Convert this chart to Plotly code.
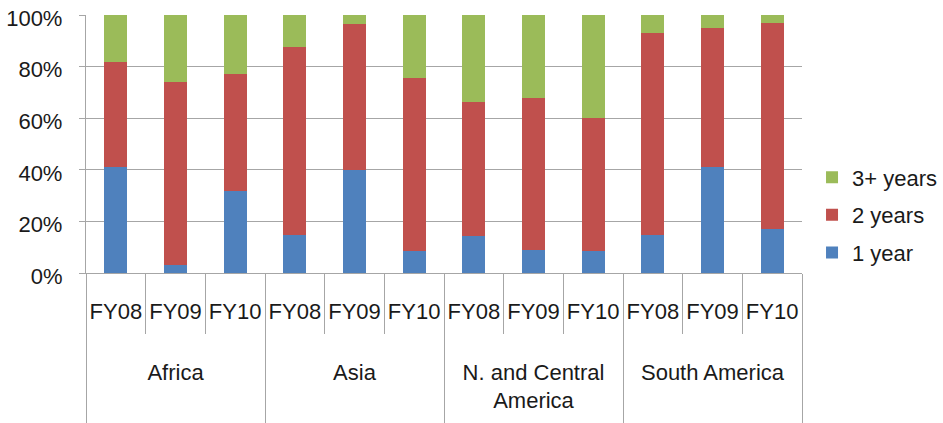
import plotly.graph_objects as go

region_names = ["Africa", "Asia", "N. and Central<br>America", "South America"]
year_names = ["FY08", "FY09", "FY10"]

# blank padding lines give the label rows the heights they have in the reference
year_pad = "<br>\u00a0<br><span style='font-size:2px'>\u00a0</span>"
region_pad = "<br><span style='font-size:2px'>\u00a0</span>"
regions = [r + region_pad for r in region_names for _ in year_names]
years = [y + year_pad for _ in region_names for y in year_names]

one_year = [41.0, 3.0, 31.7, 14.6, 40.0, 8.4, 14.2, 9.0, 8.6, 14.8, 40.9, 17.2]
two_years = [40.9, 71.2, 45.5, 73.1, 56.5, 67.1, 51.9, 59.0, 51.4, 78.4, 53.9, 79.6]
three_plus = [18.1, 25.8, 22.8, 12.3, 3.5, 24.5, 33.9, 32.0, 40.0, 6.8, 5.2, 3.2]

series = [("1 year", one_year, "#4F81BD", 3),
          ("2 years", two_years, "#C0504D", 2),
          ("3+ years", three_plus, "#9BBB59", 1)]

font = "Liberation Sans, Arial, sans-serif"
grid = "#A6A6A6"

fig = go.Figure()
for name, vals, color, rank in series:
    fig.add_trace(go.Bar(x=[regions, years], y=vals, name=name, legendgroup=name,
                         legendrank=rank,
                         marker=dict(color=color, line=dict(width=0))))

fig.update_layout(
    barmode="stack",
    bargap=0.61,
    width=943, height=423,
    margin=dict(l=86, r=141, t=15, b=150, autoexpand=False),
    paper_bgcolor="white", plot_bgcolor="white",
    font=dict(family=font, size=22, color="#1a1a1a"),
    showlegend=True,
    legend=dict(traceorder="grouped", tracegroupgap=6,
                x=1.014, xanchor="left", y=0.225, yanchor="middle",
                font=dict(size=22), itemwidth=30),
)
fig.update_yaxes(range=[0, 100], tickvals=[0, 20, 40, 60, 80, 100],
                 ticktext=["0%", "20%", "40%", "60%", "80%", "100%"],
                 showgrid=True, gridcolor=grid, gridwidth=1.3,
                 showline=True, linecolor=grid, linewidth=1.3,
                 ticks="outside", ticklen=6, tickcolor=grid, tickwidth=1.3,
                 ticklabelstandoff=12, ticklabelshift=3, ticklabeloverflow="allow",
                 zeroline=False, automargin=False)
fig.update_xaxes(type="multicategory", showline=True, linecolor=grid, linewidth=1.3,
                 ticks="outside", tickson="boundaries", ticklen=60, tickcolor=grid, tickwidth=1.3,
                 showdividers=True, dividercolor=grid, dividerwidth=1.3, tickangle=0,
                 ticklabelstandoff=18, showgrid=False, automargin=False)

# remove the default page margin so the figure fills the window exactly
fig.write_html("out.html",
               config={"displayModeBar": False},
               post_script="document.body.style.margin='0';"
                           "document.documentElement.style.overflow='hidden';")
